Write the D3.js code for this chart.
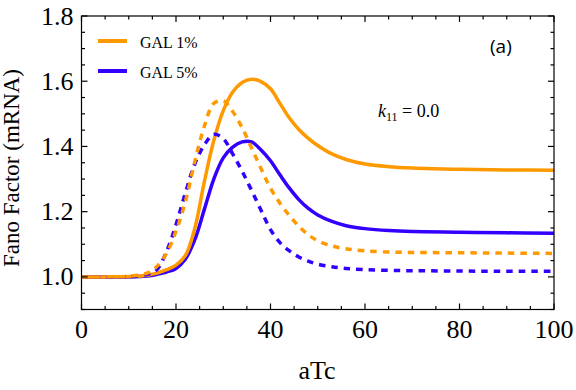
<!DOCTYPE html>
<html><head><meta charset="utf-8">
<script src="https://cdn.jsdelivr.net/npm/d3@7"></script>
<style>body{margin:0;background:#fff}svg{display:block}</style>
</head><body>
<svg id="c" width="576" height="390"></svg>
<script>
const aTc = [0,5,10,14,16,18,20,22,24,26,28,30,32,34,36,38,40,42,44,46,48,50,53,56,60,65,70,80,90,100];
const gal1Solid  = [1.000,1.000,1.001,1.005,1.012,1.022,1.036,1.066,1.150,1.292,1.418,1.510,1.567,1.596,1.606,1.599,1.577,1.532,1.487,1.452,1.425,1.403,1.377,1.360,1.346,1.338,1.334,1.330,1.328,1.327];
const gal5Solid  = [1.000,1.000,1.000,1.003,1.008,1.015,1.026,1.055,1.115,1.207,1.300,1.365,1.398,1.414,1.414,1.389,1.356,1.313,1.272,1.237,1.210,1.190,1.170,1.157,1.148,1.142,1.139,1.137,1.135,1.134];
const gal1Dashed = [1.000,1.000,1.002,1.012,1.033,1.072,1.140,1.232,1.355,1.462,1.532,1.540,1.507,1.457,1.395,1.332,1.272,1.226,1.188,1.155,1.129,1.111,1.095,1.086,1.080,1.076,1.075,1.074,1.073,1.072];
const gal5Dashed = [1.000,1.000,1.001,1.008,1.023,1.078,1.160,1.258,1.347,1.405,1.437,1.424,1.377,1.324,1.265,1.204,1.145,1.105,1.080,1.061,1.048,1.039,1.031,1.026,1.022,1.020,1.019,1.018,1.017,1.017];
const xTicks = [0,20,40,60,80,100];
const yTicks = [1.0,1.2,1.4,1.6,1.8];
const legendLabels = ["GAL 1%","GAL 5%"];

const ORANGE = "#ff9900", BLUE = "#3300ff";
const svg = d3.select("#c");
const serif = "'Liberation Serif','Times New Roman',serif";
const L = 81.5, R = 554, T = 16, B = 309.5;
const x = d3.scaleLinear().domain([0,100]).range([L,R]);
const y = d3.scaleLinear().domain([0.9,1.8]).range([B,T]);

const line = vals => d3.line().x((d,i)=>x(aTc[i])).y(d=>y(d)).curve(d3.curveCatmullRom.alpha(0.5))(vals);

const series = [
  {v: gal5Solid, c: BLUE, dash: null},
  {v: gal1Solid, c: ORANGE, dash: null},
  {v: gal5Dashed, c: BLUE, dash: "6.5,6"},
  {v: gal1Dashed, c: ORANGE, dash: "6.5,6"}
];
svg.append("clipPath").attr("id","pc").append("rect").attr("x",L).attr("y",T).attr("width",R-L).attr("height",B-T);
const g = svg.append("g").attr("clip-path","url(#pc)");
series.forEach(s => {
  g.append("path").attr("d", line(s.v)).attr("fill","none").attr("stroke", s.c)
   .attr("stroke-width", 3.5).attr("stroke-dasharray", s.dash);
});

// frame
const ax = svg.append("g").attr("stroke","#000").attr("stroke-width",1.2);
ax.append("rect").attr("x",L).attr("y",T).attr("width",R-L).attr("height",B-T).attr("fill","none");
const xMinor = d3.range(0,101,5), yMinor = d3.range(0.9,1.801,0.05);
xMinor.forEach(t => {
  const len = (t % 20 === 0) ? 6 : 3.5;
  ax.append("line").attr("x1",x(t)).attr("x2",x(t)).attr("y1",B).attr("y2",B-len);
  ax.append("line").attr("x1",x(t)).attr("x2",x(t)).attr("y1",T).attr("y2",T+len);
});
yMinor.forEach(t => {
  const major = yTicks.some(m => Math.abs(m-t) < 1e-6);
  const len = major ? 6 : 3.5;
  ax.append("line").attr("x1",L).attr("x2",L+len).attr("y1",y(t)).attr("y2",y(t));
  ax.append("line").attr("x1",R).attr("x2",R-len).attr("y1",y(t)).attr("y2",y(t));
});

// tick labels
svg.append("g").selectAll("text").data(xTicks).join("text")
  .attr("x", d=>x(d)).attr("y", 338).attr("text-anchor","middle")
  .attr("font-family", serif).attr("font-size", 26).text(d=>d);
svg.append("g").selectAll("text").data(yTicks).join("text")
  .attr("x", 73.5).attr("y", d=>y(d)).attr("dy","0.33em").attr("text-anchor","end")
  .attr("font-family", serif).attr("font-size", 26).text(d=>d.toFixed(1));

// axis titles
svg.append("text").attr("x", 317).attr("y", 379).attr("text-anchor","middle")
  .attr("font-family", serif).attr("font-size", 26).text("aTc");
svg.append("text").attr("transform","translate(19,168) rotate(-90)").attr("text-anchor","middle")
  .attr("font-family", serif).attr("font-size", 23).text("Fano Factor (mRNA)");

// legend
[ORANGE, BLUE].forEach((c,i) => {
  const ly = 41 + i*30;
  svg.append("line").attr("x1",98).attr("x2",127).attr("y1",ly).attr("y2",ly)
    .attr("stroke",c).attr("stroke-width",4);
  svg.append("text").attr("x",140).attr("y",ly+7).attr("font-family",serif)
    .attr("font-size",16).text(legendLabels[i]);
});

// annotations
svg.append("text").attr("x",490).attr("y",53).attr("font-family","'Open Sans','Liberation Sans',sans-serif")
  .attr("font-size",19).text("(a)");
const k = svg.append("text").attr("x",378).attr("y",117).attr("font-family",serif).attr("font-size",18);
k.append("tspan").attr("font-style","italic").text("k");
k.append("tspan").attr("font-size",12).attr("dy",4).text("11");
k.append("tspan").attr("dy",-4).text(" = 0.0");
</script>
</body></html>
